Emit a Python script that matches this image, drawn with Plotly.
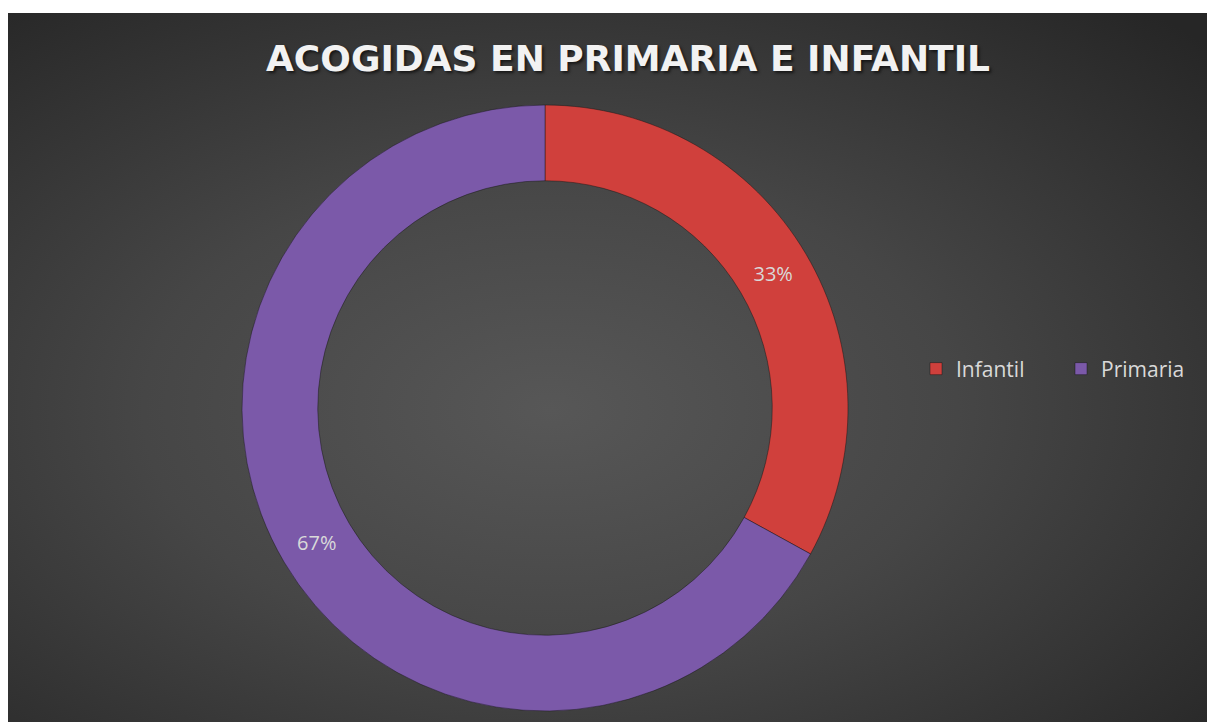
import base64
import plotly.graph_objects as go

# chart data
labels = ["Infantil", "Primaria"]
values = [33, 67]
slice_colors = ["#d0403c", "#7b59a9"]
title_text = "ACOGIDAS EN PRIMARIA E INFANTIL"

# the html page adds an 8px body margin, so the figure is 8px smaller
W, H = 1207, 714


# radial gradient background as an svg image
def gradient_background():
    svg = (
        '<svg xmlns="http://www.w3.org/2000/svg" width="1206" height="709">'
        '<defs><radialGradient id="g" cx="0.45" cy="0.56" r="0.75">'
        '<stop offset="0" stop-color="#575757"/>'
        '<stop offset="0.45" stop-color="#464646"/>'
        '<stop offset="1" stop-color="#262626"/>'
        '</radialGradient></defs>'
        '<rect width="1206" height="709" fill="url(#g)"/></svg>'
    )
    return "data:image/svg+xml;base64," + base64.b64encode(svg.encode()).decode()


fig = go.Figure()

# donut: centre (537, 400) in figure px, outer radius ~303 px
cx, cy, r = 537, 400, 303
fig.add_trace(go.Pie(
    labels=labels,
    values=values,
    hole=0.75,
    sort=False,
    direction="clockwise",
    rotation=0,
    marker=dict(colors=slice_colors, line=dict(color="rgba(20,20,20,0.45)", width=1)),
    texttemplate="%{percent:.0%}",
    textposition="inside",
    insidetextorientation="horizontal",
    textfont=dict(family="Open Sans", size=20, color="#d9d9d9"),
    domain=dict(x=[(cx - r) / W, (cx + r) / W], y=[1 - (cy + r) / H, 1 - (cy - r) / H]),
    hoverinfo="label+percent",
))

fig.add_layout_image(
    source=gradient_background(),
    xref="paper", yref="paper",
    x=0, y=1 - 5 / H,
    sizex=1206 / W, sizey=709 / H,
    xanchor="left", yanchor="top",
    sizing="stretch", layer="below",
)

fig.update_layout(
    width=W, height=H,
    margin=dict(l=0, r=0, t=0, b=0),
    paper_bgcolor="white",
    plot_bgcolor="rgba(0,0,0,0)",
    title=dict(
        text=title_text,
        x=620 / W, xanchor="center",
        y=1 - 50 / H, yanchor="middle",
        font=dict(family="DejaVu Sans", size=36, color="#f2f2f2", weight="bold",
                  shadow="2px 2px 3px rgba(0,0,0,0.6)"),
    ),
    legend=dict(
        orientation="h",
        x=908 / W, xanchor="left",
        y=1 - 361 / H, yanchor="middle",
        font=dict(family="Open Sans", size=21, color="#d9d9d9"),
        bgcolor="rgba(0,0,0,0)",
        entrywidth=100,
        itemwidth=30,
    ),
    showlegend=True,
)

fig.write_html("out.html")
